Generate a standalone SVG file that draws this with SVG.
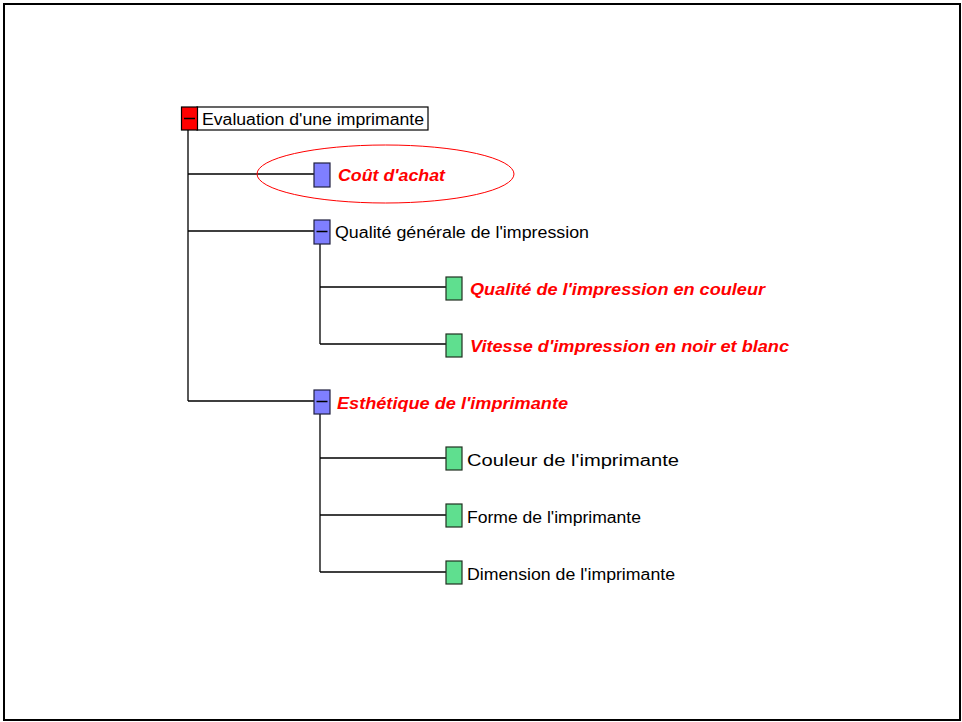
<svg xmlns="http://www.w3.org/2000/svg" width="962" height="722" viewBox="0 0 962 722">
  <style>
    .frame { fill: #ffffff; stroke: #000000; stroke-width: 2; }
    .link { fill: none; stroke: #000000; stroke-width: 1.3; }
    .root { fill: #ff0000; stroke: #000000; stroke-width: 1.2; }
    .branch { fill: #7f7fff; stroke: #202040; stroke-width: 1.2; }
    .leaf { fill: #5fdf8f; stroke: #203020; stroke-width: 1.2; }
    .dash { stroke: #000000; stroke-width: 1.5; }
    .label { font-family: "Liberation Sans", Arial, sans-serif; font-size: 16px; fill: #000000; }
    .hot { font-family: "Liberation Sans", Arial, sans-serif; font-size: 16px; font-weight: bold; font-style: italic; fill: #ff0000; }
  </style>

  <rect class="frame" x="4" y="4" width="956" height="716"/>

  <!-- tree connectors -->
  <g id="connectors">
    <path class="link" d="M188,130 V401 M188,174 H314 M188,231 H314 M188,401 H314"/>
    <path class="link" d="M320,244 V344 M320,287 H446 M320,344 H446"/>
    <path class="link" d="M320,414 V572 M320,458 H446 M320,515 H446 M320,572 H446"/>
  </g>

  <g id="root">
    <rect x="197" y="107" width="231" height="23" fill="#ffffff" stroke="#000000" stroke-width="1.2"/>
    <rect class="root" x="181.5" y="107" width="16" height="23"/>
    <line class="dash" x1="184" y1="118.5" x2="195" y2="118.5"/>
    <text class="label" x="202" y="125" textLength="222" lengthAdjust="spacingAndGlyphs">Evaluation d'une imprimante</text>
  </g>

  <g id="cout-achat">
    <ellipse cx="385.5" cy="174" rx="128.5" ry="29" fill="none" stroke="#ff0000" stroke-width="1"/>
    <rect class="branch" x="314" y="163" width="16" height="24"/>
    <text class="hot" x="338" y="181" textLength="107" lengthAdjust="spacingAndGlyphs">Coût d'achat</text>
  </g>

  <g id="qualite-generale">
    <rect class="branch" x="314" y="220" width="16" height="24"/>
    <line class="dash" x1="316.5" y1="231.5" x2="327.5" y2="231.5"/>
    <text class="label" x="335" y="238" textLength="254" lengthAdjust="spacingAndGlyphs">Qualité générale de l'impression</text>
  </g>

  <g id="qualite-couleur">
    <rect class="leaf" x="446" y="277" width="16" height="23"/>
    <text class="hot" x="470" y="295" textLength="295" lengthAdjust="spacingAndGlyphs">Qualité de l'impression en couleur</text>
  </g>

  <g id="vitesse-noir-blanc">
    <rect class="leaf" x="446" y="334" width="16" height="23"/>
    <text class="hot" x="470" y="352" textLength="319" lengthAdjust="spacingAndGlyphs">Vitesse d'impression en noir et blanc</text>
  </g>

  <g id="esthetique">
    <rect class="branch" x="314" y="390" width="16" height="24"/>
    <line class="dash" x1="316.5" y1="401.5" x2="327.5" y2="401.5"/>
    <text class="hot" x="337" y="409" textLength="231" lengthAdjust="spacingAndGlyphs">Esthétique de l'imprimante</text>
  </g>

  <g id="couleur">
    <rect class="leaf" x="446" y="447" width="16" height="23"/>
    <text class="label" x="467" y="466" textLength="212" lengthAdjust="spacingAndGlyphs">Couleur de l'imprimante</text>
  </g>

  <g id="forme">
    <rect class="leaf" x="446" y="504" width="16" height="23"/>
    <text class="label" x="467" y="523" textLength="174" lengthAdjust="spacingAndGlyphs">Forme de l'imprimante</text>
  </g>

  <g id="dimension">
    <rect class="leaf" x="446" y="561" width="16" height="23"/>
    <text class="label" x="467" y="580" textLength="208" lengthAdjust="spacingAndGlyphs">Dimension de l'imprimante</text>
  </g>
</svg>
